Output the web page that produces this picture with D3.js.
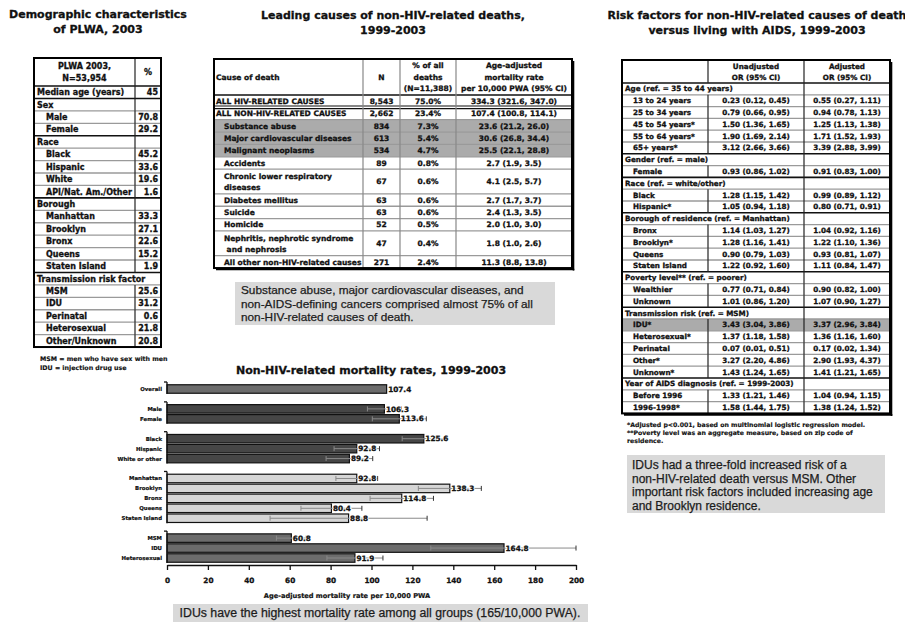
<!DOCTYPE html>
<html>
<head>
<meta charset="utf-8">
<script src="https://cdn.jsdelivr.net/npm/d3@7"></script>
<style>
  body { margin: 0; background: #fff; }
  svg { display: block; }
  .hv { stroke: #111; stroke-width: 0.3px; }
  .pl { stroke: #1c1c1c; stroke-width: 0.25px; }
</style>
</head>
<body>
<svg id="poster" width="905" height="625"></svg>
<script>
// ---------- Demographic characteristics of PLWA, 2003 ----------
const demoHeader = ["PLWA 2003,\nN=53,954", "%"];
const demoLabels = ["Median age (years)", "Sex", "Male", "Female", "Race", "Black", "Hispanic", "White",
  "API/Nat. Am./Other", "Borough", "Manhattan", "Brooklyn", "Bronx", "Queens", "Staten Island",
  "Transmission risk factor", "MSM", "IDU", "Perinatal", "Heterosexual", "Other/Unknown"];
const demoValues = ["45", "", "70.8", "29.2", "", "45.2", "33.6", "19.6", "1.6", "", "33.3", "27.1",
  "22.6", "15.2", "1.9", "", "25.6", "31.2", "0.6", "21.8", "20.8"];
const demoKinds = ["top", "sec", "sub", "sub", "sec", "sub", "sub", "sub", "sub", "sec", "sub", "sub",
  "sub", "sub", "sub", "secspan", "sub", "sub", "sub", "sub", "sub"];
const demoNotes = ["MSM = men who have sex with men", "IDU = injection drug use"];

// ---------- Leading causes of non-HIV-related deaths ----------
const causeHeader = ["Cause of death", "N", "% of all\ndeaths\n(N=11,388)", "Age-adjusted\nmortality rate\nper 10,000 PWA (95% CI)"];
const causeLabels = ["ALL HIV-RELATED CAUSES", "ALL NON-HIV-RELATED CAUSES", "Substance abuse",
  "Major cardiovascular diseases", "Malignant neoplasms", "Accidents", "Chronic lower respiratory\ndiseases",
  "Diabetes mellitus", "Suicide", "Homicide", "Nephritis, nephrotic syndrome\n and nephrosis",
  "All other non-HIV-related causes"];
const causeN = ["8,543", "2,662", "834", "613", "534", "89", "67", "63", "63", "52", "47", "271"];
const causePct = ["75.0%", "23.4%", "7.3%", "5.4%", "4.7%", "0.8%", "0.6%", "0.6%", "0.6%", "0.5%", "0.4%", "2.4%"];
const causeRate = ["334.3 (321.6, 347.0)", "107.4 (100.8, 114.1)", "23.6 (21.2, 26.0)", "30.6 (26.8, 34.4)",
  "25.5 (22.1, 28.8)", "2.7 (1.9, 3.5)", "4.1 (2.5, 5.7)", "2.7 (1.7, 3.7)", "2.4 (1.3, 3.5)",
  "2.0 (1.0, 3.0)", "1.8 (1.0, 2.6)", "11.3 (8.8, 13.8)"];
const causeKinds = ["top", "top", "sub", "sub", "sub", "sub", "sub", "sub", "sub", "sub", "sub", "sub"];
const causeShaded = [false, false, true, true, true, false, false, false, false, false, false, false];
const causeNote = ["Substance abuse, major cardiovascular diseases, and",
  "non-AIDS-defining cancers comprised almost 75% of all",
  "non-HIV-related causes of death."];

// ---------- Risk factors (odds ratios) ----------
const riskHeader = ["", "Unadjusted\nOR (95% CI)", "Adjusted\nOR (95% CI)"];
const riskLabels = ["Age (ref. = 35 to 44 years)", "13 to 24 years", "25 to 34 years", "45 to 54 years*",
  "55 to 64 years*", "65+ years*", "Gender (ref. = male)", "Female", "Race (ref. = white/other)", "Black",
  "Hispanic*", "Borough of residence (ref. = Manhattan)", "Bronx", "Brooklyn*", "Queens", "Staten Island",
  "Poverty level** (ref. = poorer)", "Wealthier", "Unknown", "Transmission risk (ref. = MSM)", "IDU*",
  "Heterosexual*", "Perinatal", "Other*", "Unknown*", "Year of AIDS diagnosis (ref. = 1999-2003)",
  "Before 1996", "1996-1998*"];
const riskUnadj = ["", "0.23 (0.12, 0.45)", "0.79 (0.66, 0.95)", "1.50 (1.36, 1.65)", "1.90 (1.69, 2.14)",
  "3.12 (2.66, 3.66)", "", "0.93 (0.86, 1.02)", "", "1.28 (1.15, 1.42)", "1.05 (0.94, 1.18)", "",
  "1.14 (1.03, 1.27)", "1.28 (1.16, 1.41)", "0.90 (0.79, 1.03)", "1.22 (0.92, 1.60)", "",
  "0.77 (0.71, 0.84)", "1.01 (0.86, 1.20)", "", "3.43 (3.04, 3.86)", "1.37 (1.18, 1.58)",
  "0.07 (0.01, 0.51)", "3.27 (2.20, 4.86)", "1.43 (1.24, 1.65)", "", "1.33 (1.21, 1.46)", "1.58 (1.44, 1.75)"];
const riskAdj = ["", "0.55 (0.27, 1.11)", "0.94 (0.78, 1.13)", "1.25 (1.13, 1.38)", "1.71 (1.52, 1.93)",
  "3.39 (2.88, 3.99)", "", "0.91 (0.83, 1.00)", "", "0.99 (0.89, 1.12)", "0.80 (0.71, 0.91)", "",
  "1.04 (0.92, 1.16)", "1.22 (1.10, 1.36)", "0.93 (0.81, 1.07)", "1.11 (0.84, 1.47)", "",
  "0.90 (0.82, 1.00)", "1.07 (0.90, 1.27)", "", "3.37 (2.96, 3.84)", "1.36 (1.16, 1.60)",
  "0.17 (0.02, 1.34)", "2.90 (1.93, 4.37)", "1.41 (1.21, 1.65)", "", "1.04 (0.94, 1.15)", "1.38 (1.24, 1.52)"];
const riskShaded = riskLabels.map(d => d === "IDU*");
const riskNotes = ["*Adjusted p<0.001, based on multinomial logistic regression model.",
  "**Poverty level was an aggregate measure, based on zip code of", "residence."];
const riskNote = ["IDUs had a three-fold increased risk of a", "non-HIV-related death versus MSM.  Other",
  "important risk factors included increasing age", "and Brooklyn residence."];

// ---------- Non-HIV-related mortality rates ----------
const rateGroups = [["Overall"], ["Male", "Female"], ["Black", "Hispanic", "White or other"],
  ["Manhattan", "Brooklyn", "Bronx", "Queens", "Staten Island"], ["MSM", "IDU", "Heterosexual"]];
const rateValues = [107.4, 106.3, 113.6, 125.6, 92.8, 89.2, 92.8, 138.3, 114.8, 80.4, 88.8, 60.8, 164.8, 91.9];
const rateLow  = [null, 98.0, 100.4, 115.0, 81.7, 77.8, 82.6, 122.9, 99.3, 65.5, 50.4, 53.5, 129.0, 78.2];
const rateHigh = [null, 114.6, 126.8, 136.2, 103.9, 100.6, 103.0, 153.7, 130.3, 95.3, 127.2, 68.1, 200.0, 105.6];
const rateTicks = [0, 20, 40, 60, 80, 100, 120, 140, 160, 180, 200];
const groupFills = ["#6c6c6c", "#464646", "#464646", "#d6d6d6", "#6c6c6c"];
const rateNote = "IDUs have the highest mortality rate among all groups (165/10,000 PWA).";

const HEAVY = "DejaVu Sans, sans-serif";
const PLAIN = "Liberation Sans, Arial, sans-serif";
const svg = d3.select("#poster");

// ---------- helpers ----------
function title(lines, cx, y0, size) {
  lines.forEach((t, i) => svg.append("text").attr("class", "hv")
    .attr("x", cx).attr("y", y0 + i * 15).attr("text-anchor", "middle")
    .attr("font-family", HEAVY).attr("font-weight", "bold").attr("font-size", size)
    .attr("fill", "#111").text(t));
}

function noteBox(x, y, w, h, lines, tx, ty, lh, size, anchor) {
  svg.append("rect").attr("x", x).attr("y", y).attr("width", w).attr("height", h).attr("fill", "#d9d9d9");
  lines.forEach((t, i) => svg.append("text").attr("class", "pl")
    .attr("x", tx).attr("y", ty + i * lh).attr("text-anchor", anchor || "start")
    .attr("font-family", PLAIN).attr("font-size", size).attr("fill", "#1c1c1c").text(t));
}

function drawTable(t) {
  const g = svg.append("g");
  const xs = t.cols, x0 = xs[0], x1 = xs[xs.length - 1];
  const rows = [{ cells: t.header, kind: "head", h: t.headH }]
    .concat(t.rows.map(r => Object.assign({}, r, { h: (r.units || 1) * t.unit })));
  let y = t.top;
  rows.forEach(r => { r.y = y; y += r.h; });
  const bottom = y;

  rows.filter(r => r.fill).forEach(r => g.append("rect")
    .attr("x", x0).attr("y", r.y).attr("width", x1 - x0).attr("height", r.h).attr("fill", r.fill));

  // horizontal rules
  rows.forEach((r, i) => {
    if (i === 0) return;
    const heavy = rows[i - 1].kind === "head" || r.kind.startsWith("sec") || r.rule;
    if (r.rule === "double") {
      [-1.3, 1.3].forEach(o => g.append("line").attr("x1", x0).attr("x2", x1)
        .attr("y1", r.y + o).attr("y2", r.y + o).attr("stroke", "#111").attr("stroke-width", 1.1));
      return;
    }
    g.append("line").attr("x1", x0).attr("x2", x1).attr("y1", r.y).attr("y2", r.y)
      .attr("stroke", heavy ? "#111" : "#9a9a9a").attr("stroke-width", heavy ? 1.6 : 1.3);
  });

  // column dividers
  rows.forEach(r => {
    xs.slice(1, -1).forEach((cx, ci) => {
      if (r.kind === "secspan") return;
      if (r.span && ci + 1 < r.span) return;
      g.append("line").attr("x1", cx).attr("x2", cx).attr("y1", r.y).attr("y2", r.y + r.h)
        .attr("stroke", t.divColor || "#222").attr("stroke-width", 1.2);
    });
  });

  g.append("rect").attr("x", x0).attr("y", t.top).attr("width", x1 - x0).attr("height", bottom - t.top)
    .attr("fill", "none").attr("stroke", "#000").attr("stroke-width", 2);
  if (t.shadow) {
    g.append("line").attr("x1", x1 + 1.5).attr("x2", x1 + 1.5).attr("y1", t.top + 2).attr("y2", bottom + 2.5)
      .attr("stroke", "#000").attr("stroke-width", 1.6);
    g.append("line").attr("x1", x0 + 2).attr("x2", x1 + 2.3).attr("y1", bottom + 1.5).attr("y2", bottom + 1.5)
      .attr("stroke", "#000").attr("stroke-width", 1.6);
  }

  // cell text
  rows.forEach(r => {
    r.cells.forEach((c, ci) => {
      if (!c) return;
      const lines = c.split("\n");
      const head = r.kind === "head";
      const anchor = head ? t.headAlign[ci] : (ci === 0 ? "start" : t.align[ci]);
      let x;
      if (anchor === "start") x = xs[ci] + t.pad + (r.kind === "sub" ? t.indent : 0);
      else if (anchor === "end") x = xs[ci + 1] - t.pad;
      else x = (xs[ci] + xs[ci + 1]) / 2;
      const lh = head ? t.headLH : t.lineH;
      const cy = r.y + r.h / 2 - (lines.length - 1) * lh / 2;
      lines.forEach((ln, li) => g.append("text").attr("class", "hv")
        .attr("x", x).attr("y", cy + li * lh).attr("dy", "0.36em")
        .attr("text-anchor", anchor).attr("xml:space", "preserve")
        .attr("font-family", HEAVY).attr("font-weight", "bold").attr("font-size", t.font)
        .attr("fill", "#111").text(ln));
    });
  });
  return bottom;
}

// ---------- left: demographics ----------
title(["Demographic characteristics", "of PLWA, 2003"], 98, 18, 11);
drawTable({
  cols: [34, 135, 161], top: 58, headH: 28, unit: 12.43, font: 8, lineH: 12, headLH: 12,
  pad: 3, indent: 9, align: [null, "end"], headAlign: ["middle", "middle"],
  header: demoHeader,
  rows: demoLabels.map((d, i) => ({ cells: [d, demoValues[i]], kind: demoKinds[i] }))
});
demoNotes.forEach((t, i) => svg.append("text").attr("class", "hv").attr("x", 40).attr("y", 361 + i * 9)
  .style("stroke-width", "0.15px")
  .attr("font-family", HEAVY).attr("font-weight", "bold").attr("font-size", 6.3).attr("fill", "#111").text(t));

// ---------- middle: leading causes ----------
title(["Leading causes of non-HIV-related deaths,", "1999-2003"], 393, 19, 11);
drawTable({
  cols: [214, 363, 400, 456, 572], top: 59, headH: 36, unit: 12.36, font: 7.5, lineH: 11, headLH: 11.5,
  pad: 2, indent: 8, align: [null, "middle", "middle", "middle"],
  headAlign: ["start", "middle", "middle", "middle"], shadow: true, divColor: "#888",
  header: causeHeader,
  rows: causeLabels.map((d, i) => ({
    cells: [d, causeN[i], causePct[i], causeRate[i]], kind: causeKinds[i],
    units: d.includes("\n") ? 2 : 1, fill: causeShaded[i] ? "#ababab" : null,
    rule: i === 1 ? "double" : null
  }))
});
noteBox(235, 282, 320, 43, causeNote, 241, 294, 13.5, 11.8);

// ---------- right: risk factors ----------
title(["Risk factors for non-HIV-related causes of death", "versus living with AIDS, 1999-2003"], 757, 19, 11);
const riskIsSec = d => d.includes("(ref.");
drawTable({
  cols: [622, 708, 804, 890], top: 60, headH: 23, unit: 11.8, font: 7.2, lineH: 11, headLH: 11,
  pad: 3, indent: 8, align: [null, "middle", "middle"], headAlign: ["middle", "middle", "middle"],
  shadow: true,
  header: riskHeader,
  rows: riskLabels.map((d, i) => ({
    cells: [d, riskUnadj[i], riskAdj[i]], kind: riskIsSec(d) ? "sec" : "sub",
    span: riskIsSec(d) ? 2 : 0, fill: riskShaded[i] ? "#ababab" : null
  }))
});
riskNotes.forEach((t, i) => svg.append("text").attr("class", "hv").attr("x", 627).attr("y", 427 + i * 8)
  .style("stroke-width", "0.15px")
  .attr("font-family", HEAVY).attr("font-weight", "bold").attr("font-size", 6.2).attr("fill", "#111").text(t));
noteBox(627, 455, 258, 58, riskNote, 632, 469, 13.6, 12);

// ---------- bottom: mortality-rate bar chart ----------
svg.append("text").attr("class", "hv").attr("x", 371).attr("y", 374).attr("text-anchor", "middle")
  .attr("font-family", HEAVY).attr("font-weight", "bold").attr("font-size", 11).attr("fill", "#111")
  .text("Non-HIV-related mortality rates, 1999-2003");

const rateLabels = rateGroups.flat();
const slotKeys = [];
rateGroups.forEach((grp, gi) => {
  if (gi > 0) slotKeys.push("gap" + gi);
  grp.forEach(k => slotKeys.push(k));
});
const groupOf = {};
rateGroups.forEach((grp, gi) => grp.forEach(k => { groupOf[k] = gi; }));

const x = d3.scaleLinear().domain([0, 200]).range([167, 576]);
const y = d3.scalePoint().domain(slotKeys).range([389, 558]);
const barH = 8.5;

const rows = rateLabels.map((k, i) => ({
  key: k, v: rateValues[i], lo: rateLow[i], hi: rateHigh[i], fill: groupFills[groupOf[k]]
}));

const chart = svg.append("g");
chart.selectAll("rect.bar").data(rows).join("rect").attr("class", "bar")
  .attr("x", x(0)).attr("y", d => y(d.key) - barH / 2)
  .attr("width", d => x(d.v) - x(0)).attr("height", barH)
  .attr("fill", d => d.fill).attr("stroke", "#111").attr("stroke-width", 1.2);

// whiskers
const wk = chart.selectAll("g.whisker").data(rows.filter(d => d.lo != null)).join("g").attr("class", "whisker")
  .attr("stroke", "#8a8a8a").attr("stroke-width", 1);
wk.append("line").attr("x1", d => x(d.lo)).attr("x2", d => x(d.hi))
  .attr("y1", d => y(d.key)).attr("y2", d => y(d.key));
wk.append("line").attr("x1", d => x(d.lo)).attr("x2", d => x(d.lo))
  .attr("y1", d => y(d.key) - 2.5).attr("y2", d => y(d.key) + 2.5);
wk.append("line").attr("x1", d => x(d.hi)).attr("x2", d => x(d.hi))
  .attr("y1", d => y(d.key) - 2.5).attr("y2", d => y(d.key) + 2.5).attr("stroke", "#333");

// value labels: white halo underneath, then the figure itself
const fmt = d3.format(".1f");
["halo", "val"].forEach(cls => chart.selectAll("text." + cls).data(rows).join("text").attr("class", cls)
  .attr("x", d => x(d.v) + 1.5).attr("y", d => y(d.key)).attr("dy", "0.36em")
  .attr("font-family", HEAVY).attr("font-weight", "bold").attr("font-size", 7.3).attr("fill", "#111")
  .attr("stroke", cls === "halo" ? "#fff" : "#111").attr("stroke-width", cls === "halo" ? 2 : 0.3)
  .text(d => fmt(d.v)));

// category labels
chart.selectAll("text.cat").data(rows).join("text").attr("class", "cat hv")
  .style("stroke-width", "0.2px")
  .attr("x", 162).attr("y", d => y(d.key)).attr("dy", "0.36em").attr("text-anchor", "end")
  .attr("font-family", HEAVY).attr("font-weight", "bold").attr("font-size", 5.4).attr("fill", "#111")
  .text(d => d.key);

// broken value axis, one segment per group
rateGroups.forEach(grp => {
  const y0 = y(grp[0]) - 7, y1 = y(grp[grp.length - 1]) + 5;
  chart.append("line").attr("x1", x(0)).attr("x2", x(0)).attr("y1", y0).attr("y2", y1)
    .attr("stroke", "#111").attr("stroke-width", 1.3);
  chart.append("line").attr("x1", x(0) - 3).attr("x2", x(0)).attr("y1", y0).attr("y2", y0)
    .attr("stroke", "#111").attr("stroke-width", 1.3);
});

const axis = chart.append("g").attr("transform", "translate(0,565)")
  .call(d3.axisBottom(x).tickValues(rateTicks).tickSize(5).tickPadding(8).tickSizeOuter(0));
axis.select(".domain").attr("stroke", "#111").attr("stroke-width", 1.4);
axis.selectAll(".tick line").attr("stroke", "#111").attr("stroke-width", 1.3);
axis.selectAll(".tick text").attr("class", "hv").attr("font-family", HEAVY).attr("font-weight", "bold")
  .attr("font-size", 7.3).attr("fill", "#111");

chart.append("text").attr("class", "hv").style("stroke-width", "0.2px")
  .attr("x", 347).attr("y", 598).attr("text-anchor", "middle")
  .attr("font-family", HEAVY).attr("font-weight", "bold").attr("font-size", 6.65).attr("fill", "#111")
  .text("Age-adjusted mortality rate per 10,000 PWA");

noteBox(173, 604, 415, 18, [rateNote], 380, 617, 0, 12.3, "middle");
</script>
</body>
</html>
